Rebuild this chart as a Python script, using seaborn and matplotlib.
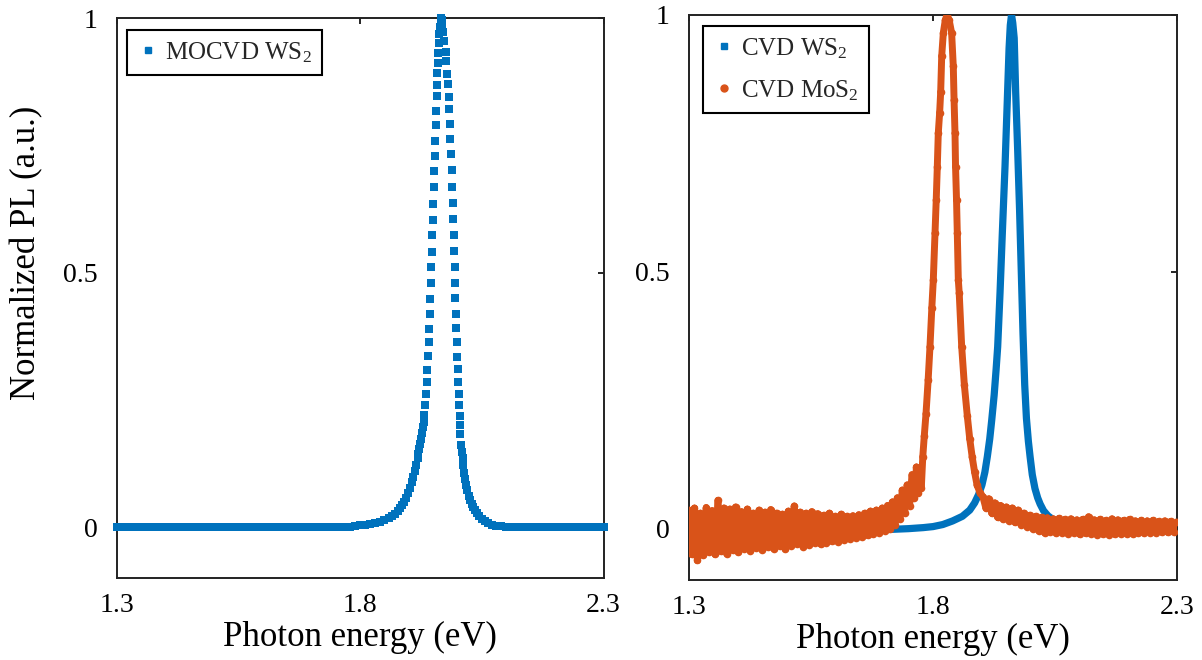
import matplotlib
matplotlib.use("Agg")
import matplotlib.pyplot as plt
from matplotlib.lines import Line2D
from matplotlib.collections import LineCollection
import seaborn as sns

# ---------------- data ----------------
# Left panel: MOCVD WS2 (normalized PL vs photon energy)
mocvd_ws2_x = [
    1.30, 1.31, 1.32, 1.33, 1.34, 1.35, 1.36, 1.37, 1.38, 1.39,
    1.40, 1.41, 1.42, 1.43, 1.44, 1.45, 1.46, 1.47, 1.48, 1.49,
    1.50, 1.51, 1.52, 1.53, 1.54, 1.55, 1.56, 1.57, 1.58, 1.59,
    1.60, 1.61, 1.62, 1.63, 1.64, 1.65, 1.66, 1.67, 1.68, 1.69,
    1.70, 1.71, 1.72, 1.73, 1.74, 1.75, 1.76, 1.77, 1.78,
    1.79, 1.80, 1.81, 1.82, 1.83, 1.84, 1.85, 1.86, 1.866, 1.872,
    1.878, 1.882, 1.886, 1.890, 1.894, 1.898, 1.902, 1.906, 1.909, 1.912,
    1.915, 1.918, 1.920, 1.922, 1.924, 1.926, 1.928, 1.930, 1.931,
    1.9320, 1.9340, 1.9357, 1.9372, 1.9385, 1.9398, 1.9410, 1.9421, 1.9432, 1.9442,
    1.9452, 1.9461, 1.9470, 1.9480, 1.9489, 1.9499, 1.9509, 1.9519, 1.9529, 1.9539,
    1.9550, 1.9561, 1.9572, 1.9580, 1.9590, 1.9598, 1.9607,
    1.9618, 1.9630, 1.9642, 1.9655, 1.9666, 1.9678, 1.9690, 1.9702, 1.9714,
    1.9760, 1.9775, 1.9795, 1.9809, 1.9820, 1.9832, 1.9846, 1.9857, 1.9868, 1.9880,
    1.9891, 1.9901, 1.9911, 1.9921, 1.9931, 1.9941, 1.9951, 1.9960, 1.9969, 1.9978,
    1.9988, 1.9997, 2.0005, 2.0014, 2.0024, 2.0033, 2.0043, 2.0052, 2.0062, 2.0075,
    2.0090, 2.0105, 2.0120, 2.0140, 2.0160, 2.0180, 2.0205, 2.0230, 2.0260, 2.0290,
    2.0320, 2.0360, 2.0400, 2.0450, 2.0500, 2.0560, 2.0630, 2.0700, 2.0800, 2.0900,
    2.1000, 2.1100,
    2.12, 2.13, 2.14, 2.15, 2.16, 2.17, 2.18, 2.19, 2.20, 2.21,
    2.22, 2.23, 2.24, 2.25, 2.26, 2.27, 2.28, 2.29, 2.30,
]
mocvd_ws2_y = [
    0, 0, 0, 0, 0, 0, 0, 0, 0, 0,
    0, 0, 0, 0, 0, 0, 0, 0, 0, 0,
    0, 0, 0, 0, 0, 0, 0, 0, 0, 0,
    0, 0, 0, 0, 0, 0, 0, 0, 0, 0,
    0, 0, 0, 0, 0, 0, 0, 0, 0,
    0.002, 0.004, 0.005, 0.007, 0.009, 0.011, 0.014, 0.018, 0.021, 0.026,
    0.032, 0.037, 0.043, 0.050, 0.058, 0.067, 0.077, 0.089, 0.099, 0.110,
    0.122, 0.135, 0.144, 0.154, 0.164, 0.174, 0.185, 0.196, 0.207,
    0.221, 0.240, 0.262, 0.286, 0.309, 0.336, 0.364, 0.390, 0.418, 0.448,
    0.479, 0.510, 0.541, 0.574, 0.603, 0.635, 0.668, 0.699, 0.729, 0.759,
    0.790, 0.818, 0.846, 0.868, 0.892, 0.911, 0.931,
    0.950, 0.968, 0.983, 0.994, 1.000, 0.997, 0.987, 0.972, 0.955,
    0.933, 0.916, 0.891, 0.870, 0.845, 0.821, 0.791, 0.763, 0.733, 0.701,
    0.669, 0.637, 0.606, 0.574, 0.542, 0.511, 0.479, 0.450, 0.419, 0.391,
    0.363, 0.335, 0.310, 0.285, 0.261, 0.239, 0.218, 0.201, 0.183, 0.162,
    0.148, 0.135, 0.122, 0.107, 0.094, 0.083, 0.072, 0.062, 0.053, 0.046,
    0.040, 0.033, 0.027, 0.021, 0.016, 0.012, 0.008, 0.005, 0.003, 0.002,
    0.001, 0.000,
    0, 0, 0, 0, 0, 0, 0, 0, 0, 0,
    0, 0, 0, 0, 0, 0, 0, 0, 0,
]

# Right panel: CVD WS2
cvd_ws2_x = [
    1.30, 1.40, 1.50, 1.60, 1.70, 1.75, 1.78, 1.80, 1.82, 1.84,
    1.86, 1.875, 1.885, 1.893, 1.900, 1.906, 1.911, 1.916, 1.920, 1.925,
    1.929, 1.9322, 1.9370, 1.9417, 1.9472, 1.9519, 1.9555, 1.9580, 1.9605, 1.9630,
    1.9660, 1.9690, 1.9730, 1.9770, 1.9805, 1.9840, 1.9875, 1.9910, 1.9950, 1.9985,
    2.0030, 2.0085, 2.0140, 2.0190, 2.0260, 2.0350, 2.0450, 2.0600, 2.1000, 2.2000,
    2.3000,
]
cvd_ws2_y = [
    -0.003, -0.003, -0.003, -0.003, -0.002, 0.000, 0.002, 0.004, 0.008, 0.015,
    0.024, 0.036, 0.050, 0.066, 0.085, 0.110, 0.140, 0.175, 0.211, 0.260,
    0.310, 0.354, 0.459, 0.575, 0.705, 0.834, 0.935, 0.980, 1.000, 0.985,
    0.955, 0.850, 0.740, 0.620, 0.500, 0.380, 0.280, 0.215, 0.170, 0.140,
    0.105, 0.078, 0.060, 0.048, 0.035, 0.025, 0.018, 0.013, 0.010, 0.009,
    0.009,
]

# Right panel: CVD MoS2 (noisy)
cvd_mos2_x = [
    1.300, 1.306, 1.312, 1.318, 1.324, 1.330, 1.336, 1.342, 1.348, 1.354,
    1.360, 1.366, 1.372, 1.378, 1.384, 1.390, 1.396, 1.402, 1.408, 1.414,
    1.420, 1.426, 1.432, 1.438, 1.444, 1.450, 1.456, 1.462, 1.468, 1.474,
    1.480, 1.486, 1.492, 1.498, 1.504, 1.510, 1.516, 1.522, 1.528, 1.534,
    1.540, 1.546, 1.552, 1.558, 1.564, 1.570, 1.576, 1.582, 1.588, 1.594,
    1.600, 1.606, 1.612, 1.618, 1.624, 1.630, 1.636, 1.642, 1.648, 1.654,
    1.660, 1.666, 1.672, 1.678, 1.684, 1.690, 1.696,
    1.702, 1.707, 1.712, 1.717, 1.722, 1.727, 1.732, 1.737, 1.742, 1.747,
    1.752, 1.757, 1.762, 1.766, 1.770, 1.773, 1.776, 1.779,
    1.7820, 1.7856, 1.7900, 1.7937, 1.7975, 1.8005, 1.8040, 1.8065, 1.8087, 1.8107,
    1.8135, 1.8156, 1.8177, 1.8210, 1.8250, 1.8285, 1.8330, 1.8380, 1.8414, 1.8430,
    1.8449, 1.8460, 1.8480, 1.8496, 1.8517, 1.8535, 1.8586, 1.8640, 1.8700, 1.8750,
    1.8800, 1.8850, 1.8900, 1.8960,
    1.902, 1.908, 1.914, 1.920, 1.926, 1.932, 1.938, 1.944, 1.950, 1.956,
    1.962, 1.968, 1.974, 1.980, 1.986, 1.992, 1.998, 2.004, 2.010, 2.016,
    2.022, 2.028, 2.034, 2.040, 2.046, 2.052, 2.058, 2.064, 2.070, 2.076,
    2.082, 2.088, 2.094, 2.100, 2.106, 2.112, 2.118, 2.124, 2.130, 2.136,
    2.142, 2.148, 2.154, 2.160, 2.166, 2.172, 2.178, 2.184, 2.190, 2.196,
    2.202, 2.208, 2.214, 2.220, 2.226, 2.232, 2.238, 2.244, 2.250, 2.256,
    2.262, 2.268, 2.274, 2.280, 2.286, 2.292, 2.298,
]
cvd_mos2_y = [
    0.036, -0.050, 0.040, -0.062, 0.030, -0.052, 0.041, -0.046, 0.035, -0.050,
    0.055, -0.044, 0.040, -0.049, 0.038, -0.042, 0.042, -0.046, 0.033, -0.040,
    0.038, -0.043, 0.030, -0.038, 0.036, -0.041, 0.032, -0.036, 0.037, -0.039,
    0.030, -0.034, 0.028, -0.040, 0.034, -0.033, 0.044, -0.030, 0.032, -0.035,
    0.030, -0.031, 0.033, -0.028, 0.029, -0.030, 0.026, -0.027, 0.030, -0.025,
    0.024, -0.026, 0.028, -0.022, 0.024, -0.020, 0.025, -0.018, 0.027, -0.016,
    0.030, -0.013, 0.034, -0.010, 0.036, -0.008, 0.040,
    -0.004, 0.045, 0.000, 0.052, 0.008, 0.060, 0.018, 0.075, 0.030, 0.085,
    0.045, 0.105, 0.060, 0.120, 0.070, 0.115, 0.080, 0.140,
    0.180, 0.224, 0.290, 0.354, 0.430, 0.484, 0.575, 0.640, 0.705, 0.770,
    0.810, 0.850, 0.920, 0.965, 0.990, 1.000, 0.990, 0.965, 0.900, 0.834,
    0.770, 0.705, 0.640, 0.575, 0.484, 0.459, 0.354, 0.280, 0.220, 0.175,
    0.140, 0.110, 0.085, 0.070,
    0.062, 0.040, 0.058, 0.030, 0.050, 0.022, 0.045, 0.018, 0.042, 0.015,
    0.040, 0.012, 0.036, 0.008, 0.030, 0.004, 0.026, 0.000, 0.024, -0.004,
    0.022, -0.008, 0.021, -0.006, 0.019, -0.009, 0.020, -0.008, 0.018, -0.010,
    0.019, -0.008, 0.017, -0.011, 0.018, -0.009, 0.023, -0.010, 0.017, -0.012,
    0.018, -0.011, 0.016, -0.012, 0.019, -0.011, 0.017, -0.010, 0.016, -0.010,
    0.018, -0.010, 0.015, -0.009, 0.016, -0.009, 0.015, -0.008, 0.016, -0.008,
    0.014, -0.007, 0.015, -0.007, 0.014, -0.006, 0.013,
]

x_ticks = [1.3, 1.8, 2.3]
x_tick_labels = ["1.3", "1.8", "2.3"]
y_ticks = [0, 0.5, 1]
y_tick_labels = ["0", "0.5", "1"]

x_label = "Photon energy (eV)"
y_label = "Normalized PL (a.u.)"
left_legend = ["MOCVD WS$_\\mathregular{2}$"]
right_legend = ["CVD WS$_\\mathregular{2}$", "CVD MoS$_\\mathregular{2}$"]

BLUE = "#0072BD"
ORANGE = "#D95319"

# ---------------- style ----------------
sns.set_theme(style="white")
FONT = ["Liberation Serif", "DejaVu Serif"]
plt.rcParams["font.family"] = FONT
plt.rcParams["mathtext.fontset"] = "custom"
plt.rcParams["mathtext.rm"] = "Liberation Serif"
plt.rcParams["mathtext.it"] = "Liberation Serif:italic"

fig = plt.figure(figsize=(12.02, 6.6), dpi=100)
ax1 = fig.add_axes([0.0970, 0.1242, 0.4051, 0.8485])
ax2 = fig.add_axes([0.5729, 0.1212, 0.4067, 0.8561])

# left panel
sns.scatterplot(x=mocvd_ws2_x, y=mocvd_ws2_y, ax=ax1, marker="s", s=28,
                color=BLUE, linewidth=0, legend=False, clip_on=False, zorder=3)

# right panel: WS2 as thick line
sns.lineplot(x=cvd_ws2_x, y=cvd_ws2_y, ax=ax2, estimator=None, sort=False,
             color=BLUE, linewidth=5.2, legend=False, zorder=3)

# right panel: MoS2, each consecutive pair of points stroked separately
mos2_pts = list(zip(cvd_mos2_x, cvd_mos2_y))
mos2_segments = [[mos2_pts[i], mos2_pts[i + 1]] for i in range(len(mos2_pts) - 1)]
ax2.add_collection(LineCollection(mos2_segments, colors=ORANGE, linewidths=5.0,
                                  capstyle="round", zorder=4))
sns.scatterplot(x=cvd_mos2_x, y=cvd_mos2_y, ax=ax2, marker="o", s=30,
                color=ORANGE, linewidth=0, legend=False, zorder=5)

for ax in (ax1, ax2):
    ax.set_xlim(1.3, 2.3)
    ax.set_ylim(-0.1, 1.0)
    ax.set_xticks(x_ticks)
    ax.set_xticklabels(x_tick_labels)
    ax.set_yticks(y_ticks)
    ax.set_yticklabels(y_tick_labels)
    ax.tick_params(direction="in", length=4.5, width=1.2, color="black",
                   top=True, right=True, labelsize=20, labelcolor="black")
    ax.tick_params(axis="x", pad=11)
    ax.tick_params(axis="y", pad=13.5)
    for sp in ax.spines.values():
        sp.set_visible(True)
        sp.set_color("#222222")
        sp.set_linewidth(1.4)
    ax.set_facecolor("white")
    ax.set_xlabel(x_label, fontsize=25, color="black", labelpad=2)
    ax.grid(False)
    for t in ax.get_xticklabels() + ax.get_yticklabels():
        t.set_family(FONT)

ax1.set_ylabel(y_label, fontsize=25, color="black")
ax1.yaxis.set_label_coords(-0.150, 0.58)

# legends
h1 = [Line2D([], [], linestyle="none", marker="s", markersize=4.2,
             markerfacecolor=BLUE, markeredgecolor=BLUE)]
leg1 = ax1.legend(h1, left_legend, loc="upper left", bbox_to_anchor=(0.0207, 0.9786),
                  borderaxespad=0, fontsize=18, frameon=True, fancybox=False,
                  edgecolor="black", framealpha=1, handlelength=0.9,
                  handletextpad=0.25, borderpad=0.4)
leg1.get_frame().set_linewidth(1.5)

h2 = [Line2D([], [], linestyle="none", marker="s", markersize=4.2,
             markerfacecolor=BLUE, markeredgecolor=BLUE),
      Line2D([], [], linestyle="none", marker="o", markersize=5.0,
             markerfacecolor=ORANGE, markeredgecolor=ORANGE)]
leg2 = ax2.legend(h2, right_legend, loc="upper left", bbox_to_anchor=(0.0288, 0.9805),
                  borderaxespad=0, fontsize=18, frameon=True, fancybox=False,
                  edgecolor="black", framealpha=1, handlelength=0.9,
                  handletextpad=0.25, borderpad=0.4, labelspacing=0.7)
leg2.get_frame().set_linewidth(1.5)

fig.savefig("out.png", dpi=100, facecolor="white")
